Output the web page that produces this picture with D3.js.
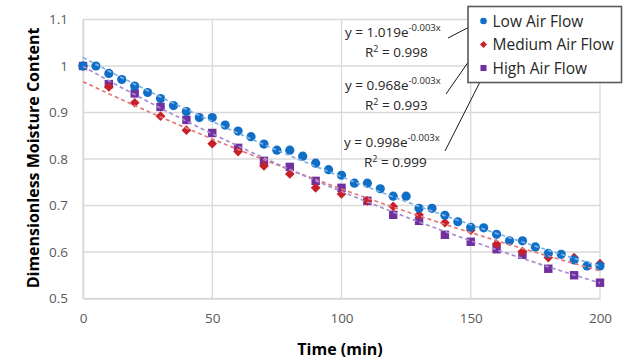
<!DOCTYPE html>
<html><head><meta charset="utf-8">
<script src="https://cdn.jsdelivr.net/npm/d3@7"></script>
<style>
body{margin:0;background:#fff;}
svg{display:block;font-family:"Open Sans",sans-serif;}
</style></head>
<body><svg id="c" width="639" height="361"></svg>
<script>
const seriesNames = ["Low Air Flow","Medium Air Flow","High Air Flow"];
const lowTime = [0,5,10,15,20,25,30,35,40,45,50,55,60,65,70,75,80,85,90,95,100,105,110,115,120,125,130,135,140,145,150,155,160,165,170,175,180,185,190,195,200];
const lowValues = [1.0,1.0,0.984,0.971,0.957,0.943,0.930,0.915,0.902,0.889,0.889,0.873,0.860,0.848,0.832,0.819,0.819,0.806,0.791,0.777,0.765,0.748,0.748,0.736,0.720,0.720,0.694,0.694,0.679,0.665,0.653,0.652,0.638,0.624,0.624,0.611,0.597,0.595,0.583,0.570,0.570];
const tenTime = [0,10,20,30,40,50,60,70,80,90,100,110,120,130,140,150,160,170,180,190,200];
const mediumValues = [1.0,0.955,0.921,0.892,0.862,0.833,0.816,0.785,0.768,0.738,0.725,0.710,0.698,0.680,0.663,0.647,0.617,0.601,0.588,0.588,0.575];
const highValues = [1.0,0.961,0.941,0.912,0.884,0.856,0.824,0.796,0.783,0.753,0.738,0.710,0.680,0.667,0.637,0.622,0.606,0.594,0.564,0.550,0.534];
const equations = [["1.019","-0.003x","0.998"],["0.968","-0.003x","0.993"],["0.998","-0.003x","0.999"]];
const xTicks = [0,50,100,150,200];
const yTicks = [0.5,0.6,0.7,0.8,0.9,1.0,1.1];

const svg = d3.select("#c");
const x = d3.scaleLinear().domain([0,200]).range([83,600]);
const y = d3.scaleLinear().domain([0.5,1.1]).range([298.5,19.5]);
const grid = "#d9d9d9", tickCol = "#595959";

// gridlines
svg.append("g").selectAll("line").data(yTicks).join("line")
  .attr("x1",x(0)).attr("x2",x(200)).attr("y1",d=>y(d)).attr("y2",d=>y(d))
  .attr("stroke",grid).attr("stroke-width",1.3);
svg.append("g").selectAll("line").data(xTicks).join("line")
  .attr("x1",d=>x(d)).attr("x2",d=>x(d)).attr("y1",y(0.5)).attr("y2",y(1.1))
  .attr("stroke",grid).attr("stroke-width",1.3);

// axes labels
const yAxis = svg.append("g").attr("transform",`translate(${x(0)},0)`)
  .call(d3.axisLeft(y).tickValues(yTicks).tickFormat(d=>d===1?"1":d3.format(".1f")(d)).tickSize(0).tickPadding(15));
yAxis.select(".domain").attr("stroke",grid).attr("stroke-width",1.5);
yAxis.selectAll("text").attr("fill",tickCol).style("font-size","13.5px").style("font-family","Open Sans");
const xAxis = svg.append("g").attr("transform",`translate(0,${y(0.5)})`)
  .call(d3.axisBottom(x).tickValues(xTicks).tickSize(0).tickPadding(15));
xAxis.select(".domain").attr("stroke",grid).attr("stroke-width",1.5);
xAxis.selectAll("text").attr("fill",tickCol).style("font-size","13.5px").style("font-family","Open Sans");

svg.append("text").attr("x",340).attr("y",355).attr("text-anchor","middle")
  .style("font-size","16px").style("font-weight","bold").attr("fill","#000").text("Time (min)");
svg.append("text").attr("transform","translate(39,158) rotate(-90)").attr("text-anchor","middle")
  .style("font-size","16px").style("font-weight","bold").attr("fill","#000").text("Dimensionless Moisture Content");

// series
const colors = ["#0F6FC6","#C8202A","#7030A0"];
const trendColors = ["#7FB2E5","#E27A7A","#A98BD2"];
const series = [
  {name:seriesNames[0], t:lowTime, v:lowValues, shape:"circle"},
  {name:seriesNames[1], t:tenTime, v:mediumValues, shape:"diamond"},
  {name:seriesNames[2], t:tenTime, v:highValues, shape:"square"}
];
function marker(g, shape, color, cx, cy, s){
  if(shape==="circle") g.append("circle").attr("cx",cx).attr("cy",cy).attr("r",4.6*s).attr("fill",color);
  else if(shape==="diamond") g.append("path").attr("d",d3.symbol(d3.symbolDiamond2,60*s*s)()).attr("transform",`translate(${cx},${cy})`).attr("fill",color);
  else g.append("rect").attr("x",cx-4.2*s).attr("y",cy-4.2*s).attr("width",8.4*s).attr("height",8.4*s).attr("fill",color);
}
// draw in reverse order (High, Medium, Low)
[2,1,0].forEach(i=>{
  const s = series[i];
  const g = svg.append("g");
  s.t.forEach((t,j)=>marker(g,s.shape,colors[i],x(t),y(s.v[j]),1));
});
// exponential trendlines (log-linear least squares)
series.forEach((s,i)=>{
  const lx=s.t, ly=s.v.map(Math.log);
  const mx=d3.mean(lx), my=d3.mean(ly);
  const b=d3.sum(lx.map((t,j)=>(t-mx)*(ly[j]-my)))/d3.sum(lx.map(t=>(t-mx)*(t-mx)));
  const a=Math.exp(my-b*mx);
  const pts=d3.range(0,201,5).map(t=>[t,a*Math.exp(b*t)]);
  svg.append("path").attr("d",d3.line().x(d=>x(d[0])).y(d=>y(d[1]))(pts))
    .attr("fill","none").attr("stroke",trendColors[i]).attr("stroke-width",1.7).attr("stroke-dasharray","4,3");
});

// equation labels
const eqPos = [[345,37,365,57],[345,90,365,110],[344,147,364,167]];
equations.forEach((e,i)=>{
  const [ex,ey,rx,ry]=eqPos[i];
  const t=svg.append("text").attr("x",ex).attr("y",ey).attr("fill","#262626").style("font-size","13.5px");
  t.append("tspan").text(`y = ${e[0]}e`);
  t.append("tspan").attr("dy",-6).style("font-size","9.5px").text(e[1]);
  const r=svg.append("text").attr("x",rx).attr("y",ry).attr("fill","#262626").style("font-size","13.5px");
  r.append("tspan").text("R");
  r.append("tspan").attr("dy",-5).style("font-size","9px").text("2");
  r.append("tspan").attr("dy",5).text(" = "+e[2]);
});
// leader lines
const leaders=[[448,38,477,23],[446,94,478,48],[445,151,483,76]];
svg.append("g").selectAll("line").data(leaders).join("line")
  .attr("x1",d=>d[0]).attr("y1",d=>d[1]).attr("x2",d=>d[2]).attr("y2",d=>d[3])
  .attr("stroke","#1a1a1a").attr("stroke-width",1);

// legend
svg.append("rect").attr("x",468).attr("y",6.5).attr("width",153.5).attr("height",76)
  .attr("fill","#fff").attr("stroke","#595959").attr("stroke-width",1.6);
series.forEach((s,i)=>{
  const cy=21+i*23.5;
  const g=svg.append("g");
  marker(g,s.shape,colors[i],483.5,cy,0.72);
  svg.append("text").attr("x",492.5).attr("y",cy+5.5).attr("fill","#262626").style("font-size","15.5px").text(s.name);
});
</script></body></html>
